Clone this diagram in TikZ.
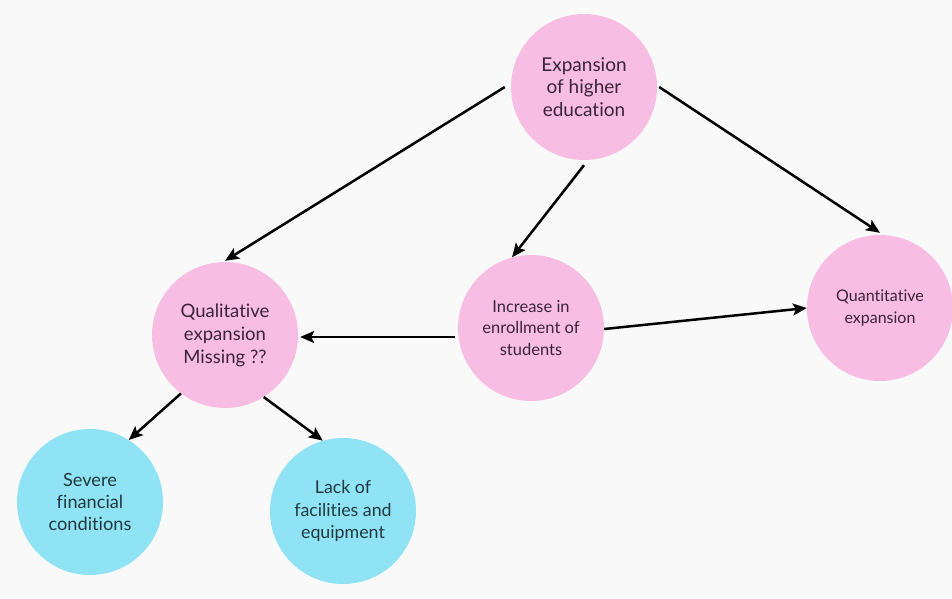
\documentclass[tikz,border=0pt]{standalone}
\usepackage{fontspec}
\setmainfont{Lato}[Ligatures={NoCommon}]
\usetikzlibrary{arrows.meta}
\definecolor{bgcol}{HTML}{F9F9F9}
\definecolor{pinkfill}{HTML}{F8BDE3}
\definecolor{cyanfill}{HTML}{8FE3F5}
\definecolor{pinktext}{HTML}{3A2438}
\definecolor{cyantext}{HTML}{1F3A40}
\tikzset{
  bubble/.style={circle, draw=none, minimum size=146pt, inner sep=0pt,
    align=center, font=\fontsize{18}{22}\selectfont},
  pinkbubble/.style={bubble, fill=pinkfill, text=pinktext},
  cyanbubble/.style={bubble, fill=cyanfill, text=cyantext},
  link/.style={line width=2.5pt, draw=black,
    -{Stealth[length=14pt, width=12pt, inset=3pt]}},
}
\begin{document}
\begin{tikzpicture}[x=1pt, y=-1pt]
  \fill[bgcol] (0,0) rectangle (952,598);
  \useasboundingbox (0,0) rectangle (952,598);

  \node[pinkbubble, font=\fontsize{19}{22.5}\selectfont] (top) at (584,87)
    {Expansion\\of higher\\education};
  \node[pinkbubble, font=\fontsize{18.5}{23}\selectfont] (qual) at (225,335)
    {Qualitative\\expansion\\Missing ??};
  \node[pinkbubble, font=\fontsize{16.5}{21.5}\selectfont] (incr) at (531,328)
    {Increase in\\enrollment of\\students};
  \node[pinkbubble, font=\fontsize{16}{22}\selectfont] (quant) at (880,308)
    {Quantitative\\expansion};
  \node[cyanbubble, font=\fontsize{18.2}{22}\selectfont] (severe) at (90,502)
    {Severe\\financial\\conditions};
  \node[cyanbubble, font=\fontsize{17.8}{22.5}\selectfont] (lack) at (343,511)
    {Lack of\\facilities and\\equipment};

  \draw[link] ([xshift=-6pt]top.west) -- ([yshift=1pt]qual.north);
  \draw[link] ([yshift=-5pt]top.south) -- (incr.105);
  \draw[link] ([xshift=2pt]top.east) -- ([yshift=2pt]quant.north);
  \draw[link] ([xshift=-3pt,yshift=-9pt]incr.west) -- ([xshift=2pt,yshift=-2pt]qual.east);
  \draw[link] ([yshift=-1pt]incr.east) -- (quant.west);
  \draw[link] (qual.233) -- (severe.58);
  \draw[link] (qual.302) -- (lack.106);
\end{tikzpicture}
\end{document}
